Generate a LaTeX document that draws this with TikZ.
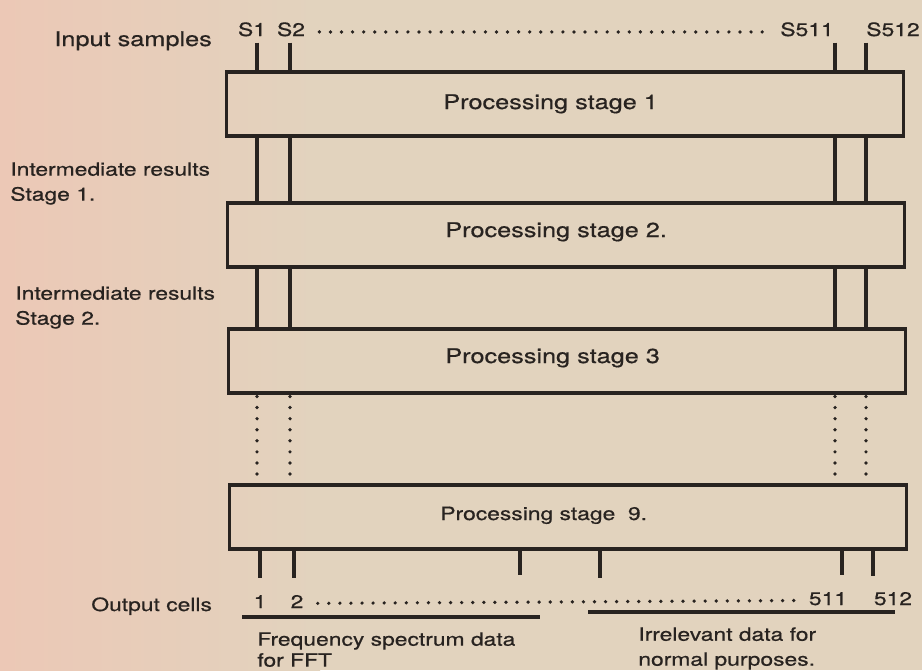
\documentclass[tikz,border=0pt]{standalone}
\usepackage{fontspec}
\setmainfont{TeX Gyre Heros}[FakeStretch=1.25, FakeBold=0.6]
\usetikzlibrary{positioning,calc}
\definecolor{paper}{RGB}{226,211,190}
\definecolor{paperpink}{RGB}{236,200,182}
\definecolor{ink}{RGB}{40,35,32}

\begin{document}
\begin{tikzpicture}[
  x=0.02cm, y=-0.02cm,
  biglabel/.style={font=\fontsize{11.5}{14}\selectfont, text=ink, inner sep=0pt},
  smalllabel/.style={font=\fontsize{10.4}{14.2}\selectfont, text=ink, inner sep=0pt},
  stagebox/.style={draw=ink, line width=2pt, minimum width=13.54cm, minimum height=1.28cm, inner sep=0pt, outer sep=0pt},
  wire/.style={draw=ink, line width=1.8pt},
  dotline/.style={draw=ink, line width=2.1pt, line cap=round, dash pattern=on 0pt off 6.3pt}
]
\useasboundingbox (0,0) rectangle (922,670);
\fill[paper] (0,0) rectangle (922,670);
\shade[left color=paperpink, right color=paper] (0,0) rectangle (320,670);

% input side
\node[biglabel, anchor=base west] (insamples) at (54,46) {Input samples};
\node[smalllabel, anchor=base] (s1) at (252,36) {S1};
\node[smalllabel, anchor=base] (s2) at (291,36) {S2};
\node[smalllabel, anchor=base] (s511) at (807,36) {S511};
\node[smalllabel, anchor=base] (s512) at (893,36) {S512};
\draw[dotline, shorten <=8pt, shorten >=8pt] ([yshift=2.3pt]s2.base east) -- ([yshift=2.3pt]s511.base west);

% stages
\node[stagebox] (stage1) at (565,104) {};
\node[stagebox] (stage2) at (566,235) {};
\node[stagebox] (stage3) at (567,361) {};
\node[stagebox] (stage9) at (568,517) {};
\node[biglabel, anchor=base west] (label1) at (443,109) {Processing stage 1};
\node[biglabel, anchor=base west] (label2) at (445,237) {Processing stage 2.};
\node[biglabel, anchor=base west] (label3) at (445,363) {Processing stage 3};
\node[smalllabel, anchor=base west] (label9) at (440,520) {Processing stage~ 9.};

\node[smalllabel, anchor=north west, align=left] (inter1) at (10,162) {Intermediate results\\Stage 1.};
\node[smalllabel, anchor=north west, align=left] (inter2) at (15,286) {Intermediate results\\Stage 2.};

% sample columns
\coordinate (ca) at (257,0);
\coordinate (cb) at (290,0);
\coordinate (cc) at (835,0);
\coordinate (cd) at (866,0);
\draw[wire, shorten <=3.4pt] (ca |- s1.south) -- (ca |- stage1.north);
\draw[wire, shorten <=3.4pt] (cb |- s2.south) -- (cb |- stage1.north);
\draw[wire, shorten <=3.4pt] (cc |- s511.south) -- (cc |- stage1.north);
\draw[wire, shorten <=3.4pt] (cd |- s512.south) -- (cd |- stage1.north);
\draw[wire] (ca |- stage1.south) -- (ca |- stage2.north) (ca |- stage2.south) -- (ca |- stage3.north);
\draw[wire] (cb |- stage1.south) -- (cb |- stage2.north) (cb |- stage2.south) -- (cb |- stage3.north);
\draw[wire] (cc |- stage1.south) -- (cc |- stage2.north) (cc |- stage2.south) -- (cc |- stage3.north);
\draw[wire] (cd |- stage1.south) -- (cd |- stage2.north) (cd |- stage2.south) -- (cd |- stage3.north);
\draw[dotline, shorten <=2pt, shorten >=2pt] (ca |- stage3.south) -- (ca |- stage9.north);
\draw[dotline, shorten <=2pt, shorten >=2pt] (cb |- stage3.south) -- (cb |- stage9.north);
\draw[dotline, shorten <=2pt, shorten >=2pt] (cc |- stage3.south) -- (cc |- stage9.north);
\draw[dotline, shorten <=2pt, shorten >=2pt] (cd |- stage3.south) -- (cd |- stage9.north);

% output side
\coordinate (ba) at (260,578);
\coordinate (bb) at (294,578);
\coordinate (bc) at (520,575);
\coordinate (bd) at (600,578);
\coordinate (be) at (842,575);
\coordinate (bf) at (873,576);
\draw[wire] (stage9.south -| ba) -- (ba);
\draw[wire] (stage9.south -| bb) -- (bb);
\draw[wire] (stage9.south -| bc) -- (bc);
\draw[wire] (stage9.south -| bd) -- (bd);
\draw[wire] (stage9.south -| be) -- (be);
\draw[wire] (stage9.south -| bf) -- (bf);

\node[smalllabel, anchor=base west] (outcells) at (91,611) {Output cells};
\node[smalllabel, anchor=base] (o1) at (260,608) {1};
\node[smalllabel, anchor=base] (o2) at (297,608) {2};
\node[smalllabel, anchor=base] (o511) at (828,605) {511};
\node[smalllabel, anchor=base] (o512) at (893,605) {512};
\draw[dotline, shorten <=8pt, shorten >=6pt] ([yshift=2.6pt]o2.base east) -- ([yshift=2.6pt]o511.base west);

\draw[wire] (242,617) -- (540,617);
\draw[wire] (588,612) -- (895,612);
\node[smalllabel, anchor=north west, align=left, font=\fontsize{10.4}{11.9}\selectfont] (freq) at (257,632) {Frequency spectrum data\\for FFT};
\node[smalllabel, anchor=north west, align=left] (irrel) at (638,627) {Irrelevant data for\\normal purposes.};
\end{tikzpicture}
\end{document}
